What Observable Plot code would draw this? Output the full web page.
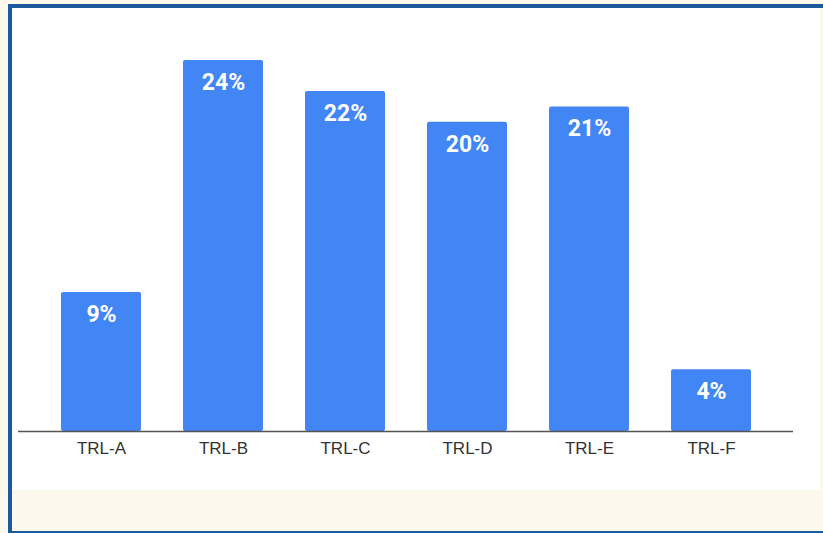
<!DOCTYPE html>
<html>
<head>
<meta charset="utf-8">
<script src="https://cdn.jsdelivr.net/npm/d3@7"></script>
<script src="https://cdn.jsdelivr.net/npm/@observablehq/plot@0.6"></script>
<style>
  html, body { margin: 0; padding: 0; background: #fdf8ec; width: 823px; height: 533px; overflow: hidden; }
  #frame { position: absolute; left: 8px; top: 4px; width: 815px; height: 523px;
           border-left: 4px solid #1b5a9c; border-top: 4px solid #1b5a9c; border-bottom: 2px solid #1b5a9c;
           background: #fdf8ec; box-sizing: content-box; }
  #white { position: absolute; left: 0; top: 0; width: 808px; height: 482px; background: #ffffff; }
  #chart { position: absolute; left: 0; top: 0; }
</style>
</head>
<body>
<div id="frame"><div id="white"></div><div id="chart"></div></div>
<script>
const categories = ["TRL-A", "TRL-B", "TRL-C", "TRL-D", "TRL-E", "TRL-F"];
const values = [9, 24, 22, 20, 21, 4];
const labels = ["9%", "24%", "22%", "20%", "21%", "4%"];

const data = categories.map((c, i) => ({cat: c, value: values[i], label: labels[i]}));

const chart = Plot.plot({
  width: 808,
  height: 482,
  marginLeft: 6,
  marginRight: 27,
  marginTop: 52,
  marginBottom: 59,
  style: {background: "transparent", fontFamily: "Roboto, sans-serif"},
  x: {domain: categories, padding: 0.345, label: null},
  y: {domain: [0, 24], axis: null},
  marks: [
    Plot.barY(data, {x: "cat", y: "value", fill: "#4285f4", rx: 2}),
    Plot.ruleY([0], {stroke: "#555", strokeWidth: 1.5}),
    Plot.text(data, {x: "cat", y: "value", text: "label", fill: "white", fontWeight: "bold",
      fontSize: 23, lineAnchor: "top", dy: 13, fontFamily: "Roboto, sans-serif"}),
    Plot.axisX({tickSize: 0, tickPadding: 10, fontSize: 17, color: "#333", label: null,
      fontFamily: "'Liberation Sans', Arial, sans-serif"})
  ]
});
document.getElementById("chart").appendChild(chart);
</script>
</body>
</html>
